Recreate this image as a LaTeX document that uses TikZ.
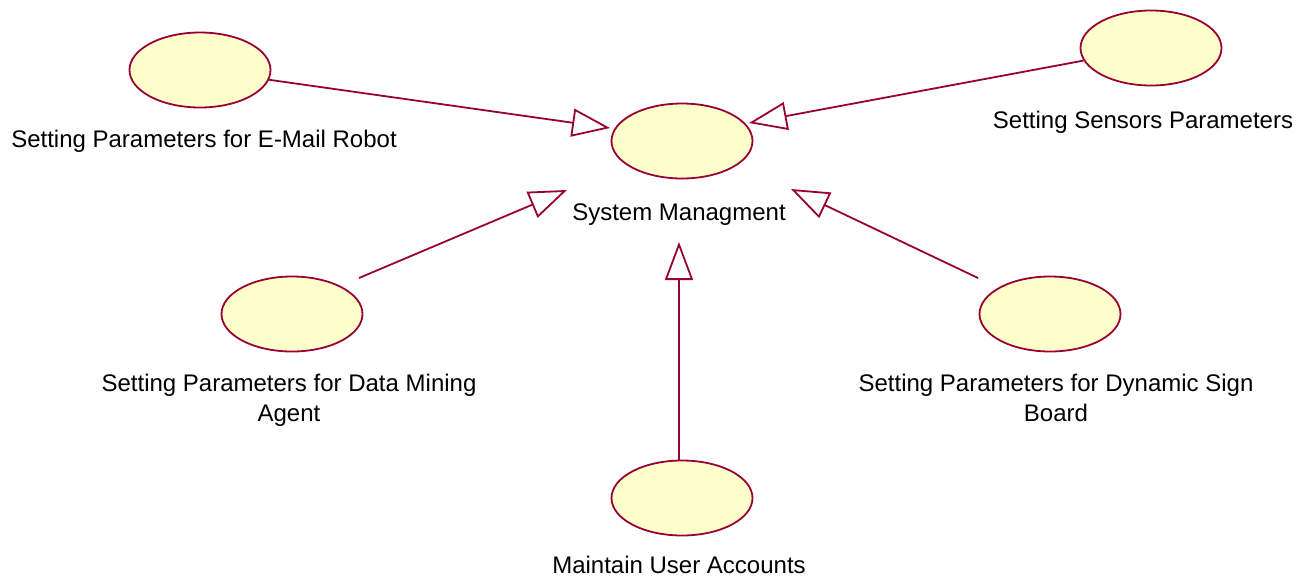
\documentclass[tikz,border=0pt]{standalone}
\usepackage{fontspec}
\setmainfont{Liberation Sans}
\usetikzlibrary{shapes.geometric,arrows.meta}
\definecolor{umlred}{RGB}{153,0,51}
\definecolor{umlfill}{RGB}{255,255,204}
\begin{document}
\begin{tikzpicture}[x=1pt,y=-1pt,
  usecase/.style={ellipse, draw=umlred, fill=umlfill, line width=1.8pt,
    minimum width=141pt, minimum height=75pt, inner sep=0pt},
  lbl/.style={font=\fontsize{24}{30}\selectfont, inner sep=0pt, anchor=base, text=black},
  gen/.style={draw=umlred, line width=1.8pt,
    -{Triangle[open, length=38pt, width=28pt, line width=1.8pt]}}]
\useasboundingbox[fill=white] (0,0) rectangle (1307,582);

% use cases
\node[usecase] (em) at (200,70) {};
\node[usecase] (sm) at (682,141) {};
\node[usecase] (ss) at (1151,48) {};
\node[usecase] (dm) at (292,314) {};
\node[usecase] (ds) at (1050,314) {};
\node[usecase] (mu) at (682,498) {};

% labels
\node[lbl] (emL) at (204,147.5) {Setting Parameters for E-Mail Robot};
\node[lbl] (smL) at (679,220) {System Managment};
\node[lbl] (ssL) at (1143,128) {Setting Sensors Parameters};
\node[lbl] (dmL) at (289,391.5) {\begin{tabular}[t]{@{}c@{}}Setting Parameters for Data Mining\\Agent\end{tabular}};
\node[lbl] (dsL) at (1056,391.5) {\begin{tabular}[t]{@{}c@{}}Setting Parameters for Dynamic Sign\\Board\end{tabular}};
\node[lbl] (muL) at (679,573) {Maintain User Accounts};

% connector ends
\coordinate (t1) at (610,128);
\coordinate (t2) at (749,123);
\coordinate (t3) at (567,190);
\coordinate (t4) at (791,189);
\coordinate (t5) at (679,242);
\coordinate (s3) at (359,278);
\coordinate (s4) at (978,278);
\coordinate (s5) at (679,460);

% generalizations
\draw[gen] (em) -- (t1);
\draw[gen] (ss) -- (t2);
\draw[gen] (s3) -- (t3);
\draw[gen] (s4) -- (t4);
\draw[gen] (s5) -- (t5);
\end{tikzpicture}
\end{document}
